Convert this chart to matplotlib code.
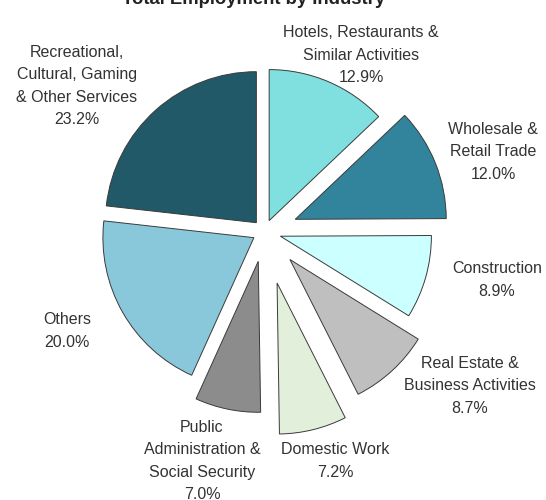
import matplotlib.pyplot as plt

# data, clockwise from 12 o'clock
industries = ['Hotels, Restaurants &\nSimilar Activities', 'Wholesale &\nRetail Trade',
              'Construction', 'Real Estate &\nBusiness Activities', 'Domestic Work',
              'Public\nAdministration &\nSocial Security', 'Others',
              'Recreational,\nCultural, Gaming\n& Other Services']
shares = [12.9, 12.0, 8.9, 8.7, 7.2, 7.0, 20.0, 23.2]

colors = ['#80E0DF', '#31849B', '#CCFFFF', '#BFBFBF', '#E2EFDA', '#8C8C8C', '#89C8DA', '#215968']
explode = [0.08, 0.22, 0.11, 0.25, 0.35, 0.2, 0.08, 0.08]
# label block centres (pixels, x from left / y from top)
label_pos = [(361, 55), (493, 152), (497, 280), (470, 386), (335, 461),
             (202, 461), (67, 331), (77, 86)]

W, H = 546, 500
cx, cy, R = 264.4, 231.7, 151.0

plt.rcParams['font.family'] = ['Liberation Sans', 'DejaVu Sans']
fig = plt.figure(figsize=(W / 100, H / 100), dpi=100)
ax = fig.add_axes([0, 0, 1, 1])
ax.pie(shares, colors=colors, explode=explode, startangle=90, counterclock=False,
       wedgeprops=dict(edgecolor='#3a3a3a', linewidth=0.7))
ax.set_aspect('auto')
ax.set_xlim(-cx / R, (W - cx) / R)
ax.set_ylim(-(H - cy) / R, cy / R)
ax.axis('off')

for name, val, (px, py) in zip(industries, shares, label_pos):
    fig.text(px / W, 1 - py / H, '%s\n%.1f%%' % (name, val), ha='center', va='center',
             fontsize=11.5, color='#333333', linespacing=1.6)

fig.text(254 / W, 1 - 4 / H, 'Total Employment by Industry', ha='center', va='baseline',
         fontsize=13.3, fontweight='bold', color='#222222')

plt.savefig('out.png', dpi=100)
